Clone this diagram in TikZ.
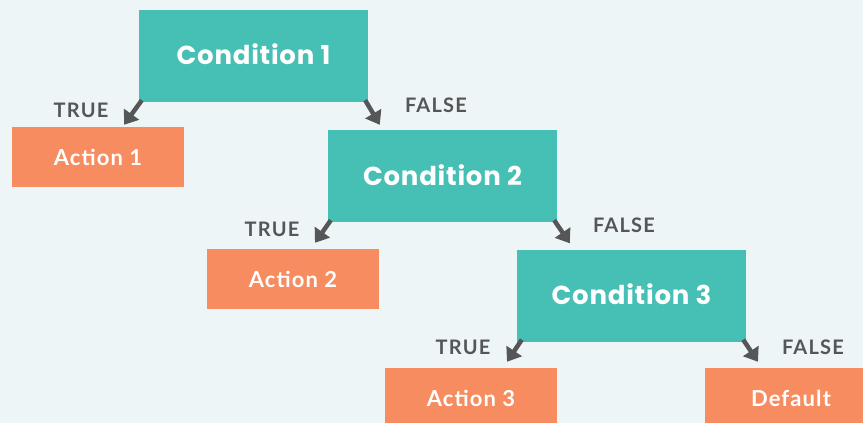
\documentclass[tikz,border=0pt]{standalone}
\usepackage{fontspec}
\setmainfont{Lato}[LetterSpace=5]
\newfontfamily\condfont{Poppins}[LetterSpace=3]
\newfontfamily\lblfont{Lato}[LetterSpace=6]
\usetikzlibrary{arrows.meta,calc}
\definecolor{bgc}{HTML}{EEF5F7}
\definecolor{tealc}{HTML}{46BFB5}
\definecolor{orangec}{HTML}{F68C5F}
\definecolor{grayc}{HTML}{555658}
\tikzset{
  condbox/.style={rectangle,fill=tealc,minimum width=229pt,minimum height=92pt,inner sep=0pt,
    text=white,font=\condfont\bfseries\fontsize{26}{30}\selectfont},
  actbox/.style={rectangle,fill=orangec,minimum width=172pt,minimum height=60pt,inner sep=0pt,
    text=white,font=\bfseries\fontsize{22}{26}\selectfont},
  lbl/.style={text=grayc,font=\lblfont\bfseries\fontsize{20}{24}\selectfont,inner sep=0pt},
  arr/.style={draw=grayc,line width=4.5pt,-{Triangle[width=18pt,length=13pt]}}
}
\begin{document}
\begin{tikzpicture}[x=1pt,y=-1pt]
\fill[bgc] (0,0) rectangle (863,423);
\useasboundingbox (0,0) rectangle (863,423);
\begin{scope}
\clip (0,0) rectangle (863,423);
\node[condbox] (c1) at (253.5,56) {\raisebox{4pt}{Condition 1}};
\node[condbox] (c2) at (442.5,176) {\raisebox{2pt}{Condition 2}};
\node[condbox] (c3) at (631.5,295.5) {\raisebox{2pt}{Condition 3}};
\node[actbox] (a1) at (98,157) {Action 1};
\node[actbox] (a2) at (293,279) {Action 2};
\node[actbox] (a3) at (471,398) {Action 3};
\node[actbox] (d) at (791,398) {Default};
\end{scope}
\node[lbl] (t1) at (81,110) {TRUE};
\node[lbl] (f1) at (436,105) {FALSE};
\node[lbl] (t2) at (272,229) {TRUE};
\node[lbl] (f2) at (624,225) {FALSE};
\node[lbl] (t3) at (463,347) {TRUE};
\node[lbl] (f3) at (813,347) {FALSE};
\draw[arr] ($(c1.south west)+(3,-2)$) -- ($(a1.north)+(26,-2)$);
\draw[arr] ($(c1.south east)+(-3,-2)$) -- ($(c2.north west)+(52,-5)$);
\draw[arr] ($(c2.south west)+(3,-2)$) -- ($(a2.north)+(22,-6)$);
\draw[arr] ($(c2.south east)+(-3,-2)$) -- ($(c3.north west)+(53,-6)$);
\draw[arr] ($(c3.south west)+(5,-2)$) -- ($(a3.north)+(36,-6)$);
\draw[arr] ($(c3.south east)+(-3,-2)$) -- ($(d.north)+(-33,-6)$);
\end{tikzpicture}
\end{document}
